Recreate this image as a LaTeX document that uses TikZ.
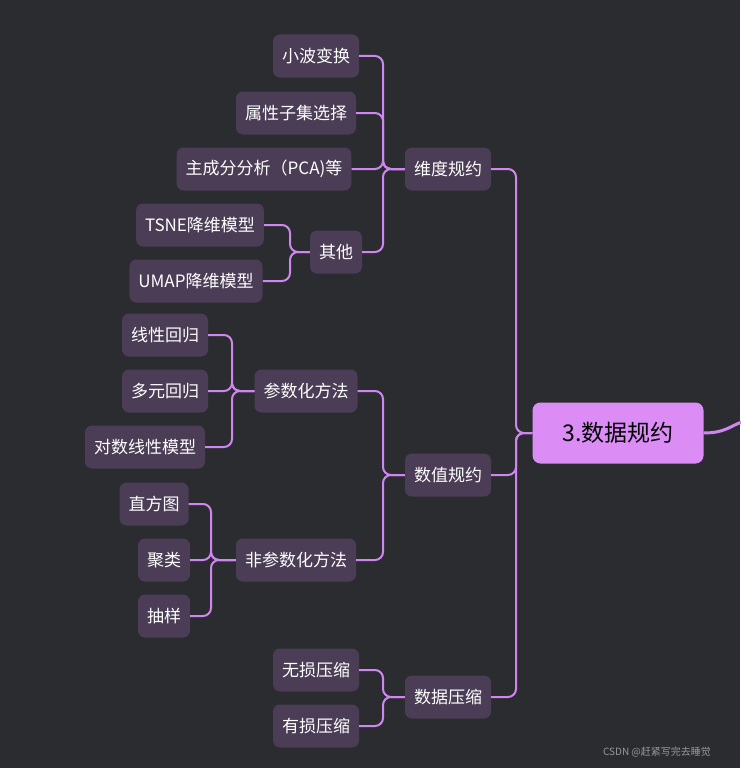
\documentclass[tikz,border=0pt]{standalone}
\usepackage{fontspec}
\setmainfont{Noto Sans CJK SC}
\begin{document}
\begin{tikzpicture}[x=1pt,y=-1pt,
  leaf/.style={fill=nodebg,text=white,rounded corners=7pt,minimum height=43pt,inner xsep=9pt,font=\fontsize{17}{20}\selectfont},
  rootn/.style={fill=rootc,text=black,rounded corners=8pt,minimum height=61pt,minimum width=171pt,font=\fontsize{23}{26}\selectfont},
  link/.style={draw=linkc,line width=2pt,rounded corners=8pt}]
\definecolor{bg}{HTML}{2B2C30}
\definecolor{nodebg}{HTML}{4B3D55}
\definecolor{rootc}{HTML}{DB8DF5}
\definecolor{linkc}{HTML}{CF86F0}
\fill[bg] (0,0) rectangle (740,768);
\useasboundingbox (0,0) rectangle (740,768);
\node[rootn] (root) at (618,433) {3.数据规约};
\node[leaf] (a) at (448,169) {维度规约};
\node[leaf] (b) at (448,475) {数值规约};
\node[leaf] (c) at (448,697) {数据压缩};
\node[leaf] (a1) at (316,56) {小波变换};
\node[leaf] (a2) at (296,113) {属性子集选择};
\node[leaf] (a3) at (264,169) {主成分分析（PCA)等};
\node[leaf] (a4) at (336,252) {其他};
\node[leaf] (a41) at (200,225) {TSNE降维模型};
\node[leaf] (a42) at (196,281) {UMAP降维模型};
\node[leaf] (b1) at (306,391) {参数化方法};
\node[leaf] (b2) at (296,560) {非参数化方法};
\node[leaf] (b11) at (165,335) {线性回归};
\node[leaf] (b12) at (165,391) {多元回归};
\node[leaf] (b13) at (145,447) {对数线性模型};
\node[leaf] (b21) at (154,504) {直方图};
\node[leaf] (b22) at (164,560) {聚类};
\node[leaf] (b23) at (164,616) {抽样};
\node[leaf] (c1) at (316,670) {无损压缩};
\node[leaf] (c2) at (316,726) {有损压缩};
\newcommand{\br}[3]{\draw[link] (#2.east) -- (#3,0 |- #2.east) -- (#3,0 |- #1.west) -- (#1.west);}
\br{root}{a}{516}\br{root}{b}{516}\br{root}{c}{516}
\br{a}{a1}{383}\br{a}{a2}{383}\br{a}{a3}{383}\br{a}{a4}{383}
\br{a4}{a41}{290}\br{a4}{a42}{290}
\br{b}{b1}{383}\br{b}{b2}{383}
\br{b1}{b11}{232}\br{b1}{b12}{232}\br{b1}{b13}{232}
\br{b2}{b21}{211}\br{b2}{b22}{211}\br{b2}{b23}{211}
\br{c}{c1}{383}\br{c}{c2}{383}
\coordinate (out) at (742,422);
\draw[linkc,line width=3pt] (root.east) .. controls (725,433) and (730,426) .. (out);
\node[text=gray!80,font=\fontsize{10}{12}\selectfont] (wm) at (657,752) {CSDN @赶紧写完去睡觉};
\end{tikzpicture}
\end{document}
